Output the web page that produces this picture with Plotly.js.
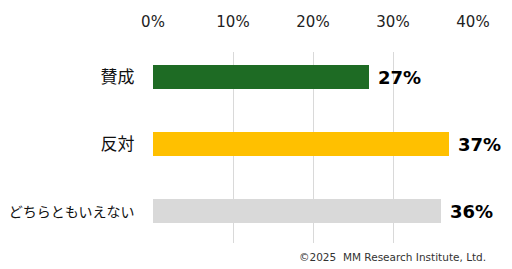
<!DOCTYPE html>
<html><head><meta charset="utf-8">
<script src="https://cdn.plot.ly/plotly-3.0.1.min.js"></script>
<style>html,body{margin:0;padding:0;background:#fff}#c{width:512px;height:269px}</style>
</head><body><div id="c"></div>
<script>
const categories = ["賛成", "反対", "どちらともいえない"];
const values = [27, 37, 36];
const barColors = ["#1e6b24", "#ffc000", "#d9d9d9"];
const tickVals = [0, 10, 20, 30, 40];
const tickLabels = ["0%", "10%", "20%", "30%", "40%"];
const catLabels = ["賛成", "反対", "<span style=\"font-size:14px\">どちらともいえない</span>"];
const credit = "©2025  MM Research Institute, Ltd.";

const trace = {
  type: "bar", orientation: "h",
  x: values, y: categories,
  marker: {color: barColors},
  width: 0.36, hoverinfo: "none"
};
const annotations = values.map((v, i) => ({
  x: v, y: categories[i], xref: "x", yref: "y",
  text: v + "%", showarrow: false, xanchor: "left", xshift: 7, yshift: -1,
  font: {family: "DejaVu Sans", size: 18, color: "#000", weight: "bold"}
}));
annotations.push({
  xref: "paper", yref: "paper", x: 1.047, y: -0.03, xanchor: "right", yanchor: "top",
  text: credit, showarrow: false,
  font: {family: "DejaVu Sans", size: 10.5, color: "#333"}
});
const layout = {
  width: 512, height: 269,
  margin: {l: 153, r: 39, t: 52, b: 26},
  paper_bgcolor: "#fff", plot_bgcolor: "#fff",
  showlegend: false,
  xaxis: {
    range: [0, 40], side: "top", tickvals: tickVals, ticktext: tickLabels,
    showgrid: true, gridcolor: "#d9d9d9", gridwidth: 1, zeroline: false,
    showline: false, ticks: "outside", ticklen: 18, tickcolor: "rgba(0,0,0,0)",
    tickfont: {family: "DejaVu Sans", size: 15, color: "#222"}, fixedrange: true
  },
  yaxis: {
    range: [2.478, -0.373], type: "category", tickvals: categories, ticktext: catLabels,
    showgrid: false, zeroline: false, showline: false,
    ticks: "outside", ticklen: 14, tickcolor: "rgba(0,0,0,0)",
    tickfont: {family: "Noto Sans CJK JP", size: 17, color: "#111"}, fixedrange: true
  },
  annotations: annotations
};
Plotly.newPlot("c", [trace], layout, {staticPlot: true, displayModeBar: false});
</script></body></html>
